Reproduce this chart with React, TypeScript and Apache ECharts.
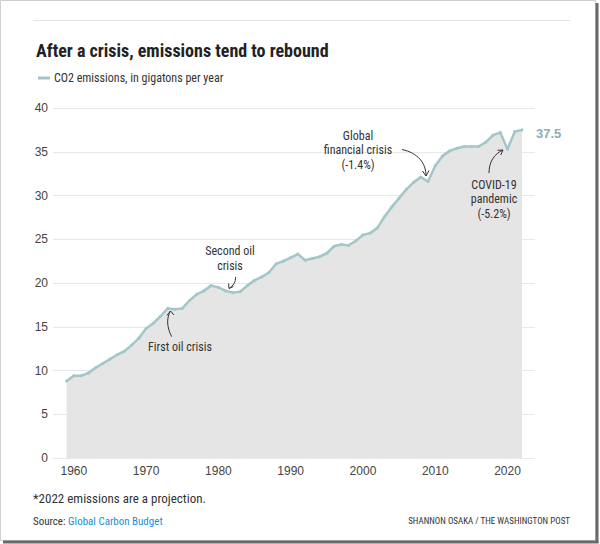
import React, { useEffect, useRef } from "react";
import * as echarts from "echarts";

const years = [
  1959, 1960, 1961, 1962, 1963, 1964, 1965, 1966, 1967, 1968,
  1969, 1970, 1971, 1972, 1973, 1974, 1975, 1976, 1977, 1978,
  1979, 1980, 1981, 1982, 1983, 1984, 1985, 1986, 1987, 1988,
  1989, 1990, 1991, 1992, 1993, 1994, 1995, 1996, 1997, 1998,
  1999, 2000, 2001, 2002, 2003, 2004, 2005, 2006, 2007, 2008,
  2009, 2010, 2011, 2012, 2013, 2014, 2015, 2016, 2017, 2018,
  2019, 2020, 2021, 2022,
];

const emissions = [
  8.8, 9.4, 9.4, 9.7, 10.3, 10.8, 11.3, 11.8, 12.2, 12.9,
  13.7, 14.8, 15.4, 16.2, 17.1, 17.0, 17.1, 18.0, 18.7, 19.1,
  19.7, 19.5, 19.1, 18.9, 19.0, 19.7, 20.3, 20.7, 21.2, 22.2,
  22.5, 22.9, 23.3, 22.6, 22.8, 23.0, 23.4, 24.2, 24.4, 24.3,
  24.8, 25.5, 25.7, 26.3, 27.6, 28.7, 29.7, 30.7, 31.5, 32.1,
  31.6, 33.4, 34.5, 35.1, 35.4, 35.6, 35.6, 35.6, 36.1, 36.9,
  37.2, 35.3, 37.3, 37.5,
];

const xTickLabels = [1960, 1970, 1980, 1990, 2000, 2010, 2020];
const yTicks = { min: 0, max: 40, interval: 5 };

const seriesName = "CO2 emissions, in gigatons per year";
const titleText = "After a crisis, emissions tend to rebound";
const footnote = "*2022 emissions are a projection.";
const sourceLabel = "Source: ";
const sourceName = "Global Carbon Budget";
const credit = "SHANNON OSAKA / THE WASHINGTON POST";

const annotations = [
  { text: "Global\nfinancial crisis\n(-1.4%)", x: 358, y: 150 },
  { text: "COVID-19\npandemic\n(-5.2%)", x: 494, y: 199 },
  { text: "Second oil\ncrisis", x: 230, y: 258.5 },
  { text: "First oil crisis", x: 180, y: 347 },
];

const NARROW = "'Liberation Sans Narrow', 'Roboto Condensed', Roboto, sans-serif";
const SANS = "'Liberation Sans', Arial, sans-serif";
const LINE = "#a3c7c8";
const AREA = "#e5e5e5";
const INK = "#333333";

export default function App() {
  const ref = useRef<HTMLDivElement>(null);

  useEffect(() => {
    if (!ref.current) return;
    const chart = echarts.init(ref.current, null, { renderer: "svg" });

    const data = years.map((y, i) => [y, emissions[i]]);

    const arrow = (shape: any) => ({
      type: "bezierCurve",
      shape,
      z: 100,
      style: { stroke: INK, lineWidth: 1, fill: null },
      silent: true,
    });
    const head = (points: number[][]) => ({
      type: "polyline",
      shape: { points },
      z: 100,
      style: { stroke: INK, lineWidth: 1, fill: null },
      silent: true,
    });

    chart.setOption({
      animation: false,
      backgroundColor: "#ffffff",
      title: {
        text: titleText,
        left: 31,
        top: 36,
        textStyle: {
          fontFamily: NARROW,
          fontSize: 18,
          fontWeight: "bold",
          color: "#222222",
        },
      },
      legend: {
        left: 33,
        top: 67,
        icon: "rect",
        itemWidth: 12,
        itemHeight: 3,
        itemGap: 10,
        textStyle: { fontFamily: NARROW, fontSize: 12, color: INK, padding: [0, 0, 0, -1] },
        data: [seriesName],
      },
      grid: { left: 53, right: 65, top: 108, bottom: 86 },
      xAxis: {
        type: "value",
        min: 1957.12,
        max: 2023.8,
        axisLine: { show: false },
        axisTick: { show: false },
        splitLine: { show: false },
        axisLabel: {
          customValues: xTickLabels,
          formatter: (v: number) => String(v),
          fontFamily: SANS,
          fontSize: 12,
          color: "#444444",
          margin: 7,
        },
      },
      yAxis: {
        type: "value",
        min: yTicks.min,
        max: yTicks.max,
        interval: yTicks.interval,
        axisLine: { show: false },
        axisTick: { show: false },
        splitLine: { lineStyle: { color: "#e8e8e8", width: 1 } },
        axisLabel: {
          fontFamily: SANS,
          fontSize: 12,
          color: "#444444",
          margin: 5,
        },
      },
      series: [
        {
          name: seriesName,
          type: "line",
          data,
          color: LINE,
          symbol: "circle",
          symbolSize: 3,
          showSymbol: true,
          lineStyle: { color: LINE, width: 2.5 },
          itemStyle: { color: LINE },
          areaStyle: { color: AREA, opacity: 1 },
          endLabel: {
            show: true,
            formatter: (p: any) => Number(p.value[1]).toFixed(1),
            color: "#8fadb3",
            fontFamily: SANS,
            fontSize: 13,
            fontWeight: "bold",
            distance: 14,
            offset: [0, 4],
          },
          z: 2,
        },
      ],
      graphic: [
        // frame
        {
          type: "rect",
          shape: { x: 0.5, y: 0.5, width: 595, height: 540 },
          style: { fill: null, stroke: "#cfcfcf", lineWidth: 1 },
          z: 100,
          silent: true,
        },
        {
          type: "line",
          shape: { x1: 597, y1: 3, x2: 597, y2: 543 },
          style: { stroke: "#6a6a6a", lineWidth: 3 },
          z: 100,
          silent: true,
        },
        {
          type: "line",
          shape: { x1: 3, y1: 542, x2: 598.5, y2: 542 },
          style: { stroke: "#6a6a6a", lineWidth: 3 },
          z: 100,
          silent: true,
        },
        // top rule
        {
          type: "line",
          shape: { x1: 33, y1: 20.5, x2: 570, y2: 20.5 },
          style: { stroke: "#e3e3e3", lineWidth: 1 },
          z: 100,
          silent: true,
        },
        // annotations
        ...annotations.map((a) => ({
          type: "text",
          x: a.x,
          y: a.y,
          z: 100,
          silent: true,
          style: {
            text: a.text,
            fill: INK,
            font: `12px ${NARROW}`,
            align: "center",
            verticalAlign: "middle",
            lineHeight: 14.5,
          },
        })),
        arrow({ x1: 402, y1: 149.5, cpx1: 418, cpy1: 153, cpx2: 426, cpy2: 163, x2: 426, y2: 176 }),
        head([[422.5, 171], [426, 176], [429, 170.5]]),
        arrow({ x1: 489, y1: 173, cpx1: 489, cpy1: 162, cpx2: 494, cpy2: 154, x2: 503, y2: 150 }),
        head([[497.5, 150.3], [503, 150], [500.7, 155]]),
        arrow({ x1: 235.5, y1: 277, cpx1: 236, cpy1: 282, cpx2: 233, cpy2: 286, x2: 229, y2: 288.5 }),
        head([[233.5, 286.4], [229, 288.5], [228.6, 283.5]]),
        arrow({ x1: 171.7, y1: 336.7, cpx1: 166, cpy1: 326, cpx2: 167, cpy2: 317, x2: 170.5, y2: 311 }),
        head([[166.8, 315.5], [170.5, 311], [174, 315]]),
        // footer
        {
          type: "text",
          x: 33,
          y: 498,
          z: 100,
          silent: true,
          style: {
            text: footnote,
            fill: INK,
            font: `13px ${NARROW}`,
            verticalAlign: "middle",
          },
        },
        {
          type: "text",
          x: 33,
          y: 521,
          z: 100,
          silent: true,
          style: {
            text: `{a|${sourceLabel}}{b|${sourceName}}`,
            verticalAlign: "middle",
            rich: {
              a: { fill: INK, fontFamily: NARROW, fontSize: 11 },
              b: { fill: "#1a8fd6", fontFamily: NARROW, fontSize: 11 },
            },
          },
        },
        {
          type: "text",
          x: 570,
          y: 520.5,
          z: 100,
          silent: true,
          style: {
            text: credit,
            fill: INK,
            font: `9px ${NARROW}`,
            align: "right",
            verticalAlign: "middle",
          },
        },
      ],
    });

    return () => chart.dispose();
  }, []);

  return (
    <div
      ref={ref}
      style={{ position: "absolute", left: 0, top: 0, width: 600, height: 544 }}
    />
  );
}
